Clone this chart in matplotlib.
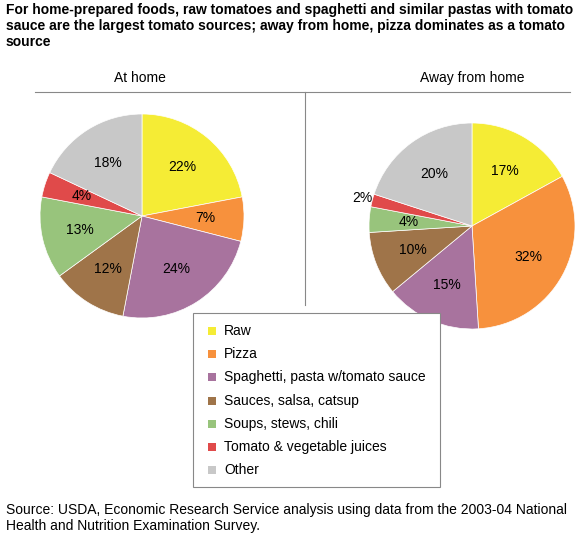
import matplotlib.pyplot as plt
from matplotlib.patches import Rectangle

categories = ["Raw", "Pizza", "Spaghetti, pasta w/tomato sauce", "Sauces, salsa, catsup",
              "Soups, stews, chili", "Tomato & vegetable juices", "Other"]
at_home = [22, 7, 24, 12, 13, 4, 18]
away_home = [17, 32, 15, 10, 4, 2, 20]
colors = ["#f5ec35", "#f7913d", "#a8739e", "#9f7449", "#98c47c", "#e04a4a", "#c8c8c8"]

W, H = 576, 535
fig = plt.figure(figsize=(W / 100, H / 100), dpi=100)
plt.rcParams['font.family'] = ['Liberation Sans', 'DejaVu Sans']


def pie_axes(cx, cy, r):
    ax = fig.add_axes([(cx - r) / W, 1 - (cy + r) / H, 2 * r / W, 2 * r / H])
    return ax


def draw_pie(ax, values, outside=()):
    wedges, texts, autotexts = ax.pie(values, colors=colors, startangle=90, counterclock=False,
                                      radius=1, autopct="%.0f%%", pctdistance=0.62,
                                      wedgeprops=dict(edgecolor="white", linewidth=0.5),
                                      textprops=dict(fontsize=10, color="black"))
    ax.set_xlim(-1, 1)
    ax.set_ylim(-1, 1)
    ax.axis("off")
    for i in outside:
        x, y = autotexts[i].get_position()
        f = 1.1 / 0.62
        autotexts[i].set_position((x * f, y * f))


draw_pie(pie_axes(142, 216, 102), at_home)
draw_pie(pie_axes(472, 226, 103), away_home, outside=[5])

fig.text(6 / W, 1 - 3 / H,
         "For home-prepared foods, raw tomatoes and spaghetti and similar pastas with tomato\n"
         "sauce are the largest tomato sources; away from home, pizza dominates as a tomato\n"
         "source", fontsize=10, fontweight="bold", va="top", ha="left", linespacing=1.2)
fig.text(140 / W, 1 - 78 / H, "At home", fontsize=10, ha="center", va="center")
fig.text(472 / W, 1 - 78 / H, "Away from home", fontsize=10, ha="center", va="center")
fig.add_artist(plt.Line2D([35 / W, 570 / W], [1 - 92 / H, 1 - 92 / H], color="#888888", lw=0.8))
fig.add_artist(plt.Line2D([305 / W, 305 / W], [1 - 92 / H, 1 - 305 / H], color="#888888", lw=0.8))

# legend box
fig.add_artist(Rectangle((193 / W, 1 - 487 / H), 247 / W, 174 / H, transform=fig.transFigure,
                         facecolor="white", edgecolor="#888888", lw=0.8, zorder=5))
for i, (lab, c) in enumerate(zip(categories, colors)):
    y = 1 - (331 + i * 23.2) / H
    fig.add_artist(Rectangle((208 / W, y - 4 / H), 8 / W, 8 / H, transform=fig.transFigure,
                             facecolor=c, edgecolor="none", zorder=6))
    fig.text(224 / W, y, lab, fontsize=10, va="center", ha="left", zorder=7)

fig.text(6 / W, 1 - 503 / H,
         "Source: USDA, Economic Research Service analysis using data from the 2003-04 National\n"
         "Health and Nutrition Examination Survey.", fontsize=10, va="top", ha="left", linespacing=1.2)

fig.savefig("out.png", dpi=100)
